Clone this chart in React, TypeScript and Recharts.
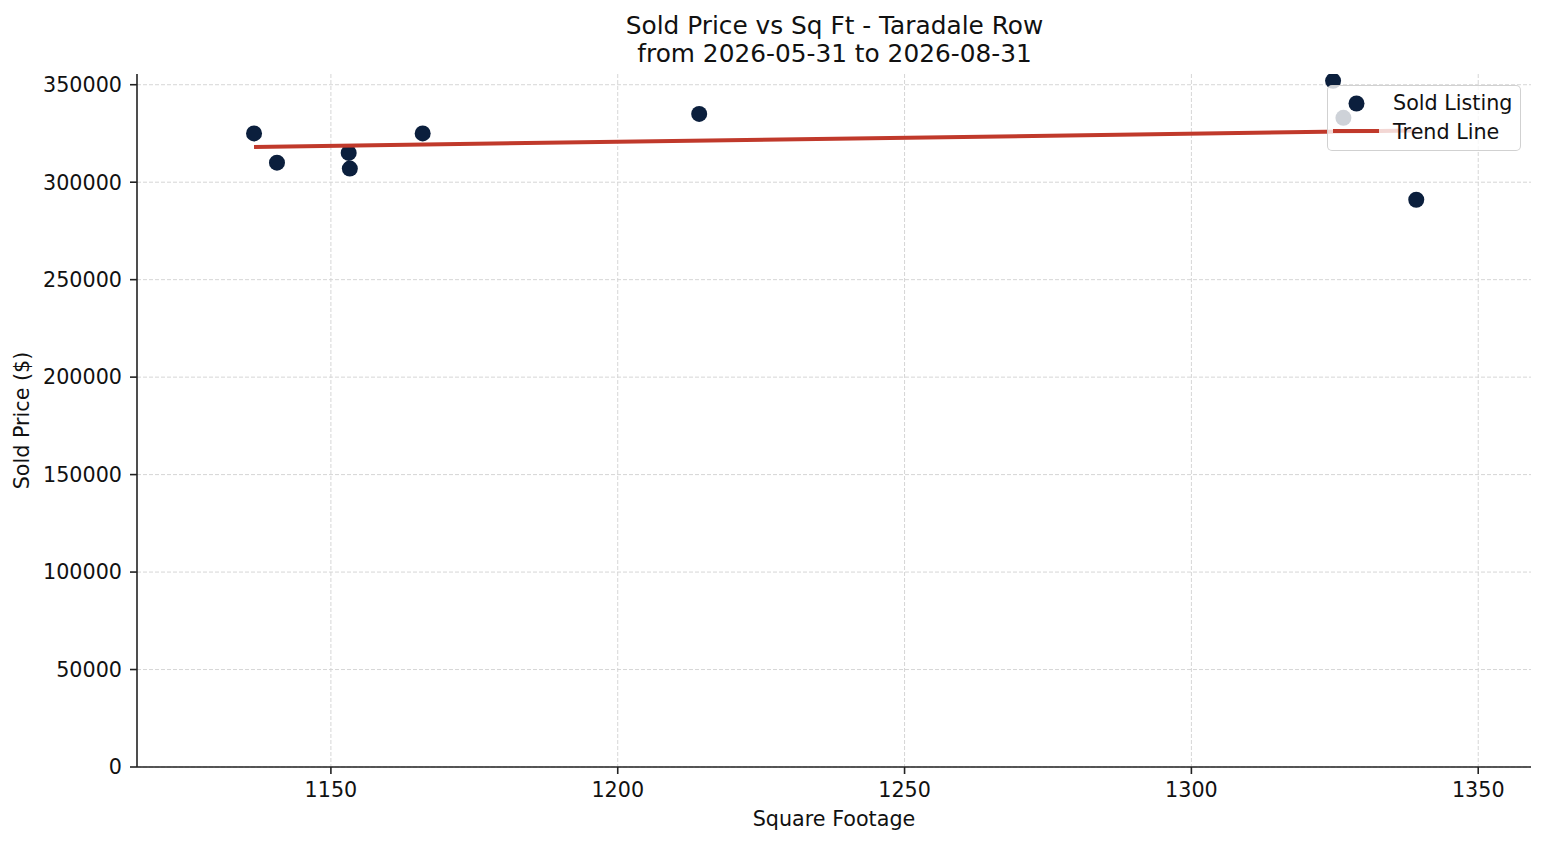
import React from 'react';
import { ScatterChart, Scatter, XAxis, YAxis, CartesianGrid, Legend } from 'recharts';

const sqft = [1136.6, 1140.6, 1153.1, 1153.3, 1166.0, 1214.2, 1324.7, 1326.5, 1339.2];
const soldPrice = [325000, 310000, 315000, 307000, 325000, 335000, 352000, 333000, 291000];

const trendSqft = [1136.6, 1339.2];
const trendPrice = [318100, 326500];

const xTicks = [1150, 1200, 1250, 1300, 1350];
const yTicks = [0, 50000, 100000, 150000, 200000, 250000, 300000, 350000];

const titleLines = ['Sold Price vs Sq Ft - Taradale Row', 'from 2026-05-31 to 2026-08-31'];

const points = sqft.map((x, i) => ({ x, y: soldPrice[i] }));
const trend = trendSqft.map((x, i) => ({ x, y: trendPrice[i] }));

const FONT = '"DejaVu Sans", Verdana, sans-serif';
const NAVY = '#0b1f3d';
const RED = '#c0392b';

const Dot = (props: any) => <circle cx={props.cx} cy={props.cy} r={8} fill={NAVY} />;
const NoShape = () => <g />;

const renderLegend = () => (
  <div
    style={{
      width: 194,
      height: 66,
      boxSizing: 'border-box',
      background: 'rgba(255,255,255,0.8)',
      border: '1.5px solid rgba(204,204,204,0.9)',
      borderRadius: 5,
      position: 'relative',
    }}
  >
    <svg width={194} height={66} style={{ position: 'absolute', left: -1.5, top: -1.5 }}>
      <circle cx={29.5} cy={18.5} r={8} fill={NAVY} />
      <line x1={6} y1={46} x2={52} y2={46} stroke={RED} strokeWidth={4} />
      <text x={66} y={24.5} fontFamily={FONT} fontSize={20.7} fill="#111">Sold Listing</text>
      <text x={66} y={54} fontFamily={FONT} fontSize={20.7} fill="#111">Trend Line</text>
    </svg>
  </div>
);

export default function App() {
  return (
    <div style={{ position: 'absolute', left: 0, top: 0, width: 1547, height: 845, background: '#fff' }}>
      <svg width={1547} height={70} style={{ position: 'absolute', left: 0, top: 0 }}>
        <text x={834.5} y={34} textAnchor="middle" fontFamily={FONT} fontSize={24.8} fill="#111">{titleLines[0]}</text>
        <text x={834.5} y={61.5} textAnchor="middle" fontFamily={FONT} fontSize={24.8} fill="#111">{titleLines[1]}</text>
      </svg>
      <div style={{ position: 'absolute', left: 0, top: 0 }}>
        <ScatterChart width={1547} height={845} margin={{ top: 74, right: 16, bottom: 0, left: 0 }}>
          <CartesianGrid stroke="#d6d6d6" strokeDasharray="4 2" strokeWidth={1} syncWithTicks />
          <XAxis
            type="number"
            dataKey="x"
            domain={[1116.2, 1359.2]}
            ticks={xTicks}
            allowDataOverflow
            height={78}
            tickSize={7}
            tickMargin={8}
            stroke="#222"
            strokeWidth={1.6}
            tick={{ fontFamily: FONT, fontSize: 20.7, fill: '#111' }}
            tickLine={{ stroke: '#222', strokeWidth: 1.6 }}
            label={{
              content: (p: any) => {
                const vb = p.viewBox;
                return (
                  <text x={vb.x + vb.width / 2} y={vb.y + 59} textAnchor="middle" fontFamily={FONT} fontSize={20.7} fill="#111">
                    Square Footage
                  </text>
                );
              },
            }}
          />
          <YAxis
            type="number"
            dataKey="y"
            domain={[0, 355500]}
            ticks={yTicks}
            allowDataOverflow
            width={137}
            tickSize={7}
            tickMargin={8}
            stroke="#222"
            strokeWidth={1.6}
            tick={{ fontFamily: FONT, fontSize: 20.7, fill: '#111' }}
            tickLine={{ stroke: '#222', strokeWidth: 1.6 }}
            label={{
              content: (p: any) => {
                const vb = p.viewBox;
                const cy = vb.y + vb.height / 2;
                return (
                  <text x={29} y={cy} transform={`rotate(-90, 29, ${cy})`} textAnchor="middle" fontFamily={FONT} fontSize={20.7} fill="#111">
                    Sold Price ($)
                  </text>
                );
              },
            }}
          />
          <Scatter name="Sold Listing" data={points} shape={Dot} isAnimationActive={false} />
          <Scatter
            name="Trend Line"
            data={trend}
            line={{ stroke: RED, strokeWidth: 4 }}
            lineType="joint"
            shape={NoShape}
            isAnimationActive={false}
          />
          <Legend
            layout="horizontal"
            verticalAlign="middle"
            align="center"
            content={renderLegend}
            wrapperStyle={{ position: 'absolute', left: 1327, top: 85, width: 194, height: 66 }}
          />
        </ScatterChart>
      </div>
    </div>
  );
}
